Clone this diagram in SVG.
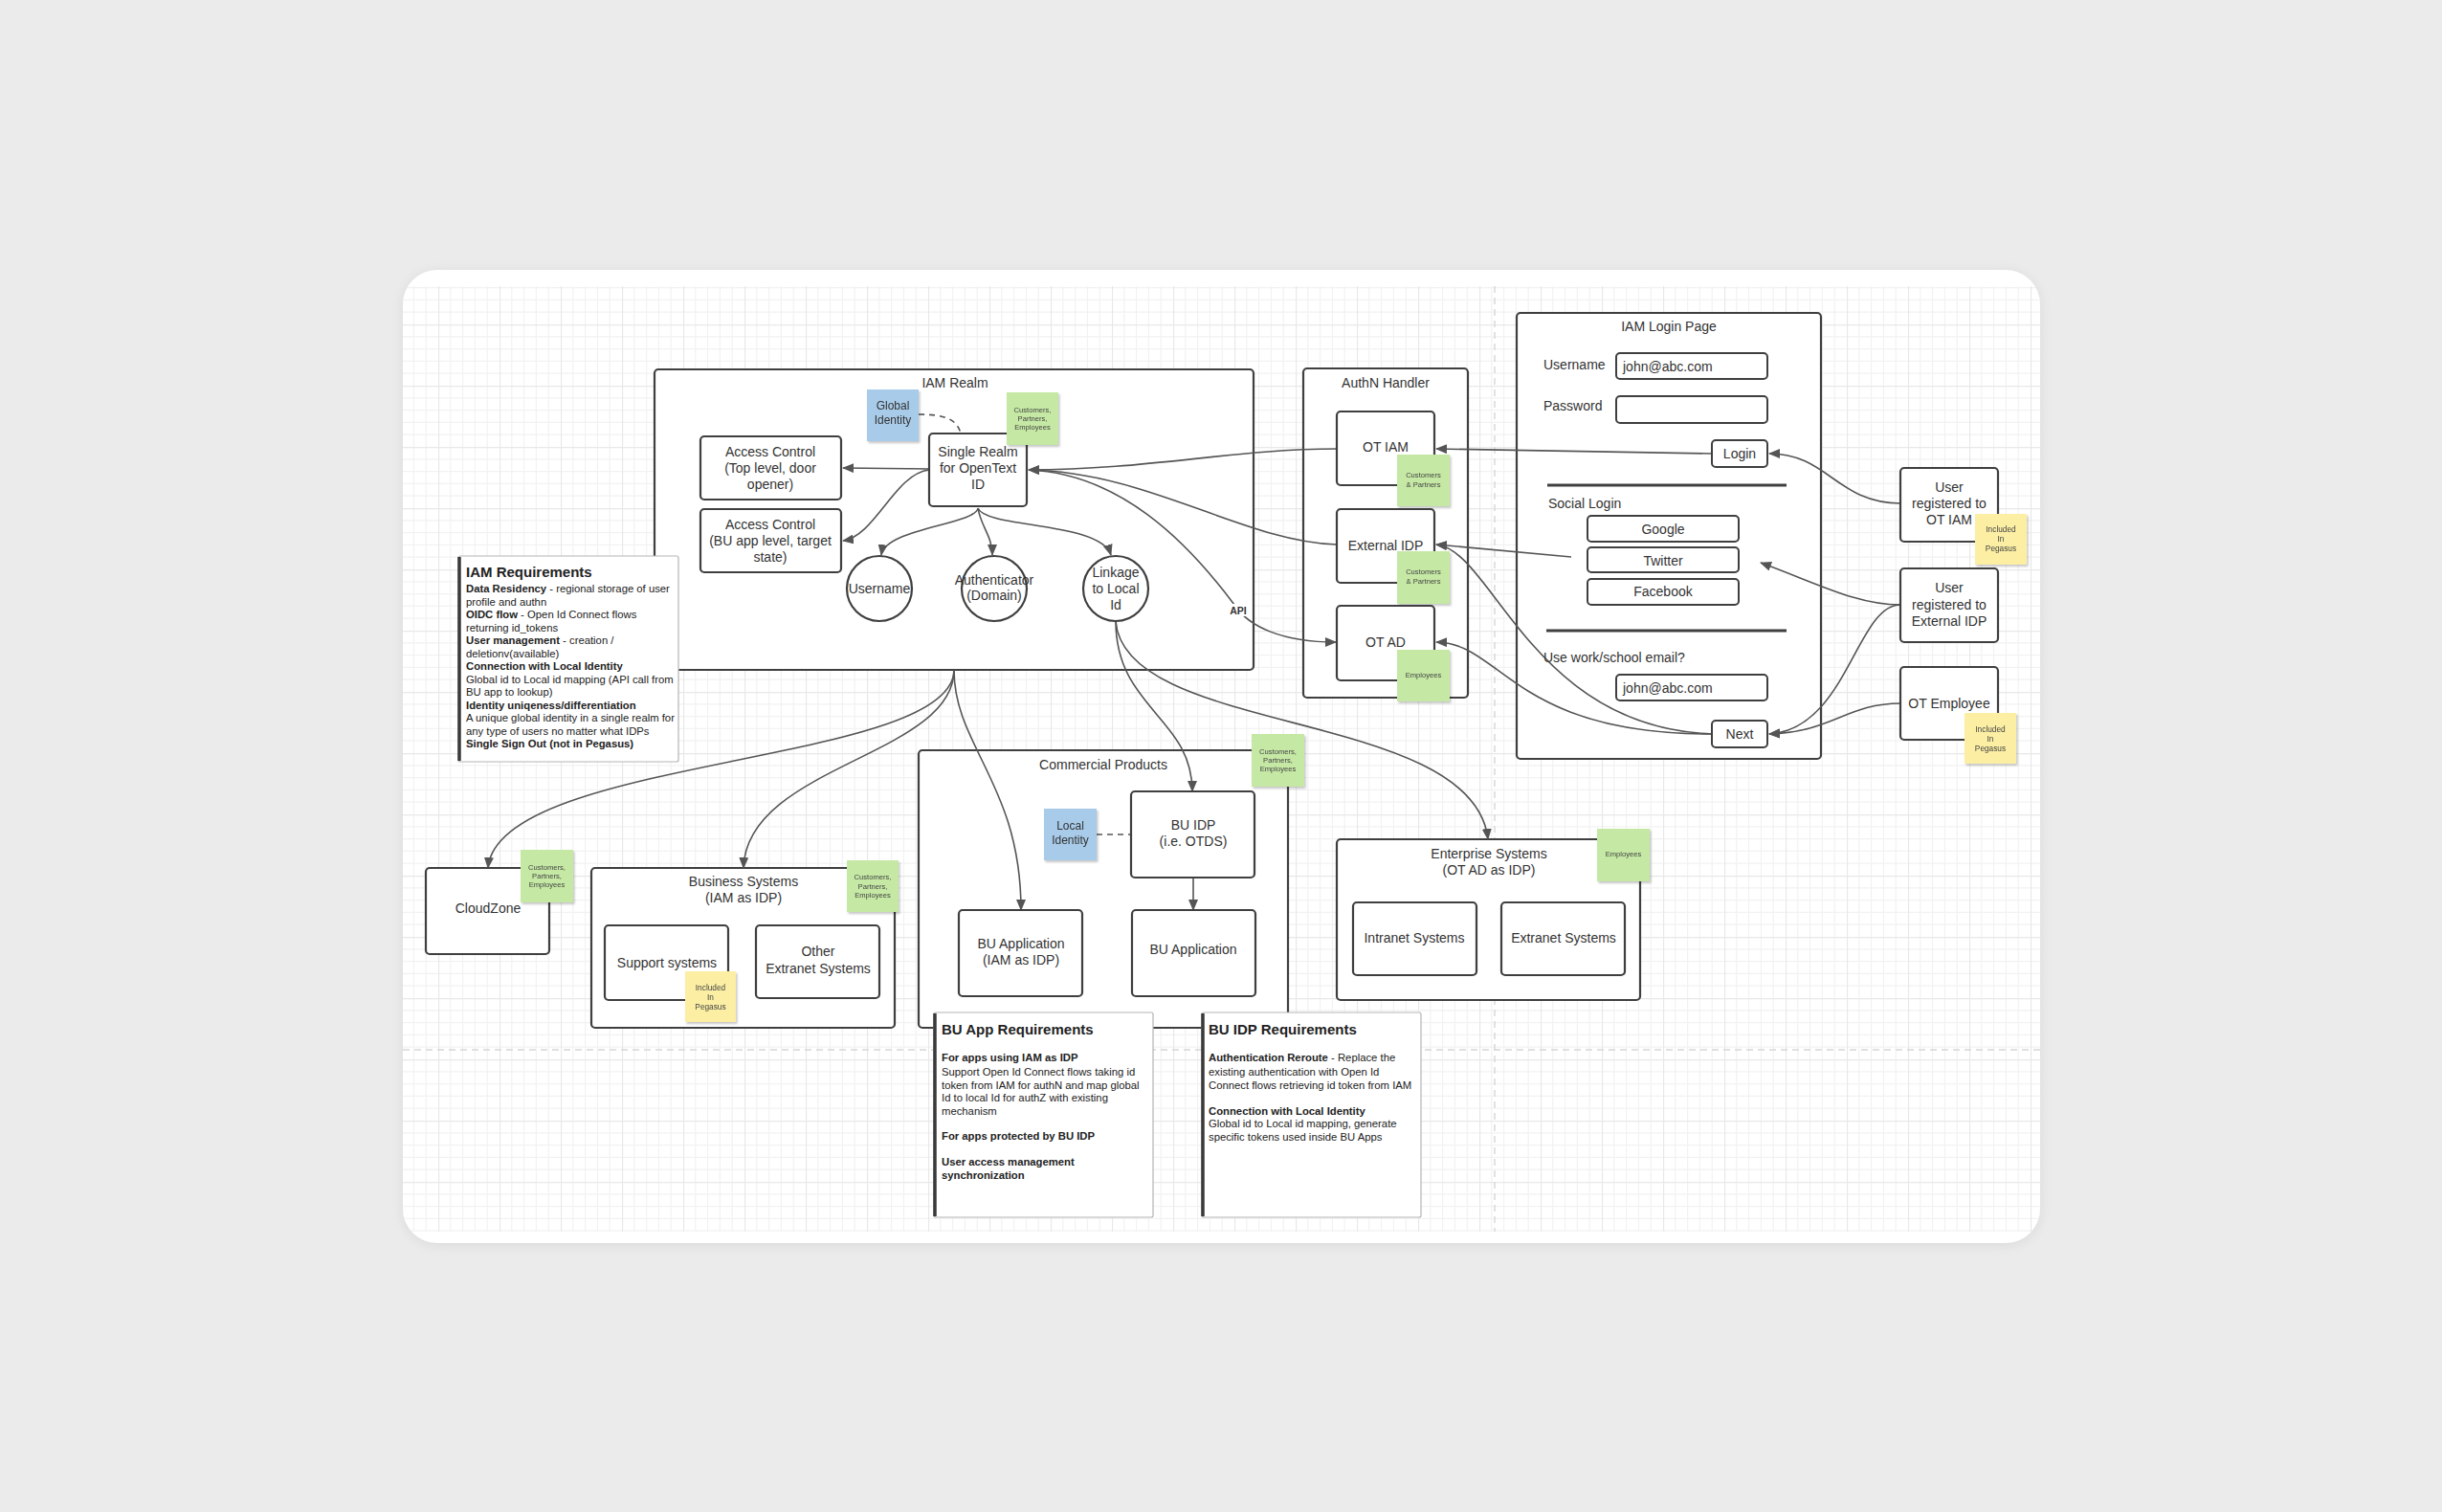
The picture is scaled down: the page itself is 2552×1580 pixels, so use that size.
<svg xmlns="http://www.w3.org/2000/svg" width="2552" height="1580" viewBox="0 0 2552 1580">
<defs>
<style>
text{font-family:"Liberation Sans",Arial,Helvetica,sans-serif;fill:#333}
.t14{font-size:14px}
.c{text-anchor:middle}
.box{fill:#fff;stroke:#3f3f3f;stroke-width:2.2}
.cont{fill:#fff;stroke:#3f3f3f;stroke-width:2.2}
.fld{fill:#fff;stroke:#3f3f3f;stroke-width:2}
.green{fill:#c5e8a4}
.blue{fill:#a8cbe9}
.yellow{fill:#fcefa4}
.st{font-size:7.6px;text-anchor:middle;fill:#444}
.sy{font-size:8.3px;text-anchor:middle;fill:#444}
.sb{font-size:12px;text-anchor:middle;fill:#333}
.conn path,.conn line{fill:none;stroke:#555;stroke-width:1.6}
.conn .arr{marker-end:url(#ah)}
.dash{stroke-dasharray:6 5}
.note{fill:#fff;stroke:#b5b5b5;stroke-width:1.2}
.nl{stroke:#3a3a3a;stroke-width:3.5}
.nt{font-size:15px;font-weight:bold;fill:#222}
.nb{font-size:11.3px;fill:#222}
.b{font-weight:bold}
.sep{stroke:#3f3f3f;stroke-width:3}
</style>
<marker id="ah" viewBox="0 0 12 10" refX="11" refY="5" markerWidth="12" markerHeight="10" markerUnits="userSpaceOnUse" orient="auto">
<path d="M0,0 L12,5 L0,10 z" fill="#555"/>
</marker>
<pattern id="grid" x="10" y="19" width="64" height="64" patternUnits="userSpaceOnUse">
<path d="M12.8,0V64M25.6,0V64M38.4,0V64M51.2,0V64M0,12.8H64M0,25.6H64M0,38.4H64M0,51.2H64" stroke="#f2f2f2" stroke-width="1.2" fill="none"/>
<path d="M0.5,0V64M0,0.5H64" stroke="#e8e8e8" stroke-width="1.3" fill="none"/>
</pattern>
<clipPath id="cardclip"><rect x="421" y="282" width="1711" height="1017" rx="36"/></clipPath>
<filter id="sh" x="-20%" y="-20%" width="150%" height="150%">
<feDropShadow dx="1.5" dy="2" stdDeviation="1.2" flood-color="#000" flood-opacity="0.22"/>
</filter>
<filter id="cardsh" x="-5%" y="-5%" width="110%" height="110%">
<feDropShadow dx="0" dy="2" stdDeviation="6" flood-color="#000" flood-opacity="0.08"/>
</filter>
</defs>

<rect x="0" y="0" width="2552" height="1580" fill="#ebebeb"/>
<rect x="421" y="282" width="1711" height="1017" rx="36" fill="#fff" filter="url(#cardsh)"/>
<g clip-path="url(#cardclip)">
<rect x="421" y="299" width="1711" height="988" fill="url(#grid)"/>
<line x1="1562" y1="299" x2="1562" y2="1287" stroke="#d6d6d6" stroke-width="1.4" stroke-dasharray="7 5"/>
<line x1="421" y1="1097" x2="2132" y2="1097" stroke="#d6d6d6" stroke-width="1.4" stroke-dasharray="7 5"/>
</g>

<!-- containers -->
<g id="iam-realm">
<rect class="cont" x="684" y="386" width="626" height="314" rx="4"/>
<text class="t14 c" x="998" y="405">IAM Realm</text>
</g>
<g id="authn-handler">
<rect class="cont" x="1362" y="385" width="172" height="344" rx="4"/>
<text class="t14 c" x="1448" y="405">AuthN Handler</text>
</g>
<g id="iam-login-page">
<rect class="cont" x="1585" y="327" width="318" height="466" rx="4"/>
<text class="t14 c" x="1744" y="346">IAM Login Page</text>
</g>
<g id="commercial-products">
<rect class="cont" x="960" y="784" width="386" height="290" rx="4"/>
<text class="t14 c" x="1153" y="804">Commercial Products</text>
</g>
<g id="business-systems">
<rect class="cont" x="618" y="907" width="317" height="167" rx="4"/>
<text class="t14 c" x="777" y="926">Business Systems</text>
<text class="t14 c" x="777" y="943">(IAM as IDP)</text>
</g>
<g id="enterprise-systems">
<rect class="cont" x="1397" y="877" width="317" height="168" rx="4"/>
<text class="t14 c" x="1556" y="897">Enterprise Systems</text>
<text class="t14 c" x="1556" y="914">(OT AD as IDP)</text>
</g>

<!-- connectors -->
<g id="connectors" class="conn">
<path class="arr" d="M971,490 L881,489"/>
<path class="arr" d="M971,491 C935,495 915,560 881,565"/>
<path class="arr" d="M1022,531 C1020,548 925,552 921,580"/>
<path class="arr" d="M1022,531 C1025,550 1037,560 1037,580"/>
<path class="arr" d="M1022,531 C1030,552 1150,545 1161,580"/>
<path class="arr" d="M1397,469 C1290,469 1200,491 1075,491"/>
<path class="arr" d="M1397,569 C1300,566 1200,493 1075,491"/>
<path class="arr" d="M1075,491 C1170,495 1240,565 1290,632 C1305,655 1340,671 1396,671"/>
<path class="arr" d="M1789,474 L1501,469"/>
<path class="arr" d="M1642,582 L1501,569"/>
<path class="arr" d="M1789,767 C1600,760 1560,575 1501,569"/>
<path class="arr" d="M1789,767 C1580,767 1570,672 1501,671"/>
<path class="arr" d="M1986,526 C1920,526 1910,474 1849,474"/>
<path class="arr" d="M1986,632 C1940,632 1900,610 1840,588"/>
<path class="arr" d="M1986,632 C1940,632 1930,762 1849,767"/>
<path class="arr" d="M1986,735 C1930,735 1915,765 1849,767"/>
<path class="arr" d="M997,700 C997,800 520,790 510,907"/>
<path class="arr" d="M997,700 C997,790 780,800 777,907"/>
<path class="arr" d="M997,700 C997,780 1067,820 1067,951"/>
<path class="arr" d="M1166,649 C1166,740 1246,750 1246,827"/>
<path class="arr" d="M1166,649 C1175,770 1540,740 1555,877"/>
<path class="arr" d="M1247,917 L1247,951"/>
<path class="dash" d="M960,433 C985,433 1000,437 1004,453"/>
<path class="dash" d="M1146,872 L1182,872"/>
<rect x="1282" y="631" width="24" height="13" fill="#fff"/>
<text x="1294" y="642" font-size="10.5" font-weight="bold" text-anchor="middle" fill="#222">API</text>
</g>

<!-- IAM realm nodes -->
<g id="access-control-top">
<rect class="box" x="732" y="456" width="147" height="66" rx="4"/>
<text class="t14 c" x="805" y="477">Access Control</text>
<text class="t14 c" x="805" y="494">(Top level, door</text>
<text class="t14 c" x="805" y="511">opener)</text>
</g>
<g id="access-control-bu">
<rect class="box" x="732" y="532" width="147" height="66" rx="4"/>
<text class="t14 c" x="805" y="553">Access Control</text>
<text class="t14 c" x="805" y="570">(BU app level, target</text>
<text class="t14 c" x="805" y="587">state)</text>
</g>
<g id="single-realm">
<rect class="box" x="971" y="453" width="102" height="76" rx="4"/>
<text class="t14 c" x="1022" y="477">Single Realm</text>
<text class="t14 c" x="1022" y="494">for OpenText</text>
<text class="t14 c" x="1022" y="511">ID</text>
</g>
<g id="username">
<circle class="box" cx="919" cy="615" r="34"/>
<text class="t14 c" x="919" y="620">Username</text>
</g>
<g id="authenticator">
<circle class="box" cx="1039" cy="615" r="34"/>
<text class="t14 c" x="1039" y="611">Authenticator</text>
<text class="t14 c" x="1039" y="627">(Domain)</text>
</g>
<g id="linkage">
<circle class="box" cx="1166" cy="615" r="34"/>
<text class="t14 c" x="1166" y="603">Linkage</text>
<text class="t14 c" x="1166" y="620">to Local</text>
<text class="t14 c" x="1166" y="637">Id</text>
</g>
<g id="global-identity" filter="url(#sh)">
<rect class="blue" x="906" y="407" width="54" height="54"/>
<text class="sb" x="933" y="428">Global</text>
<text class="sb" x="933" y="443">Identity</text>
</g>
<g id="sticky-realm" filter="url(#sh)">
<rect class="green" x="1052" y="410" width="54" height="55"/>
<text class="st" x="1079" y="431">Customers,</text>
<text class="st" x="1079" y="440">Partners,</text>
<text class="st" x="1079" y="449">Employees</text>
</g>

<!-- IAM requirements -->
<g id="iam-requirements">
<rect class="note" x="479" y="581" width="230" height="215" rx="2"/>
<line class="nl" x1="480" y1="582" x2="480" y2="795"/>
<text class="nt" x="487" y="603">IAM Requirements</text>
<text class="nb" x="487" y="619"><tspan class="b">Data Residency</tspan> - regional storage of user</text>
<text class="nb" x="487" y="632.5">profile and authn</text>
<text class="nb" x="487" y="646"><tspan class="b">OIDC flow</tspan> - Open Id Connect flows</text>
<text class="nb" x="487" y="659.5">returning id_tokens</text>
<text class="nb" x="487" y="673"><tspan class="b">User management</tspan> - creation /</text>
<text class="nb" x="487" y="686.5">deletionv(available)</text>
<text class="nb b" x="487" y="700">Connection with Local Identity</text>
<text class="nb" x="487" y="713.5">Global id to Local id mapping (API call from</text>
<text class="nb" x="487" y="727">BU app to lookup)</text>
<text class="nb b" x="487" y="740.5">Identity uniqeness/differentiation</text>
<text class="nb" x="487" y="754">A unique global identity in a single realm for</text>
<text class="nb" x="487" y="767.5">any type of users no matter what IDPs</text>
<text class="nb b" x="487" y="781">Single Sign Out (not in Pegasus)</text>
</g>

<!-- AuthN handler nodes -->
<g id="ot-iam">
<rect class="box" x="1397" y="430" width="102" height="77" rx="4"/>
<text class="t14 c" x="1448" y="472">OT IAM</text>
</g>
<g id="sticky-ot-iam" filter="url(#sh)">
<rect class="green" x="1460" y="475" width="55" height="54"/>
<text class="st" x="1487.5" y="499">Customers</text>
<text class="st" x="1487.5" y="509">&amp; Partners</text>
</g>
<g id="external-idp">
<rect class="box" x="1397" y="532" width="102" height="77" rx="4"/>
<text class="t14 c" x="1448" y="575">External IDP</text>
</g>
<g id="sticky-ext-idp" filter="url(#sh)">
<rect class="green" x="1460" y="576" width="55" height="55"/>
<text class="st" x="1487.5" y="600">Customers</text>
<text class="st" x="1487.5" y="610">&amp; Partners</text>
</g>
<g id="ot-ad">
<rect class="box" x="1397" y="633" width="102" height="78" rx="4"/>
<text class="t14 c" x="1448" y="676">OT AD</text>
</g>
<g id="sticky-ot-ad" filter="url(#sh)">
<rect class="green" x="1460" y="679" width="55" height="54"/>
<text class="st" x="1487.5" y="708">Employees</text>
</g>

<!-- Login page contents -->
<g id="login-form">
<text class="t14" x="1613" y="386">Username</text>
<rect class="fld" x="1689" y="369" width="158" height="27" rx="4"/>
<text class="t14" x="1696" y="388">john@abc.com</text>
<text class="t14" x="1613" y="429">Password</text>
<rect class="fld" x="1689" y="414" width="158" height="28" rx="4"/>
<line class="sep" x1="1617" y1="507" x2="1867" y2="507"/>
<text class="t14" x="1618" y="531">Social Login</text>
<line class="sep" x1="1616" y1="659" x2="1867" y2="659"/>
<text class="t14" x="1613" y="692">Use work/school email?</text>
<rect class="fld" x="1689" y="705" width="158" height="27" rx="4"/>
<text class="t14" x="1696" y="724">john@abc.com</text>
</g>
<g id="login-btn">
<rect class="fld" x="1789" y="460" width="58" height="28" rx="4"/>
<text class="t14 c" x="1818" y="479">Login</text>
</g>
<g id="google-btn">
<rect class="fld" x="1659" y="539" width="158" height="27" rx="4"/>
<text class="t14 c" x="1738" y="558">Google</text>
</g>
<g id="twitter-btn">
<rect class="fld" x="1659" y="572" width="158" height="26" rx="4"/>
<text class="t14 c" x="1738" y="591">Twitter</text>
</g>
<g id="facebook-btn">
<rect class="fld" x="1659" y="605" width="158" height="27" rx="4"/>
<text class="t14 c" x="1738" y="623">Facebook</text>
</g>
<g id="next-btn">
<rect class="fld" x="1789" y="753" width="58" height="28" rx="4"/>
<text class="t14 c" x="1818" y="772">Next</text>
</g>

<!-- users -->
<g id="user-ot-iam">
<rect class="box" x="1986" y="489" width="102" height="77" rx="4"/>
<text class="t14 c" x="2037" y="514">User</text>
<text class="t14 c" x="2037" y="531">registered to</text>
<text class="t14 c" x="2037" y="548">OT IAM</text>
</g>
<g id="sticky-user-ot-iam" filter="url(#sh)">
<rect class="yellow" x="2064" y="537" width="54" height="53"/>
<text class="sy" x="2091" y="556">Included</text>
<text class="sy" x="2091" y="566">In</text>
<text class="sy" x="2091" y="576">Pegasus</text>
</g>
<g id="user-ext-idp">
<rect class="box" x="1986" y="594" width="102" height="77" rx="4"/>
<text class="t14 c" x="2037" y="619">User</text>
<text class="t14 c" x="2037" y="637">registered to</text>
<text class="t14 c" x="2037" y="654">External IDP</text>
</g>
<g id="ot-employee">
<rect class="box" x="1986" y="697" width="102" height="76" rx="4"/>
<text class="t14 c" x="2037" y="740">OT Employee</text>
</g>
<g id="sticky-ot-employee" filter="url(#sh)">
<rect class="yellow" x="2053" y="745" width="54" height="53"/>
<text class="sy" x="2080" y="765">Included</text>
<text class="sy" x="2080" y="775">In</text>
<text class="sy" x="2080" y="785">Pegasus</text>
</g>

<!-- bottom left -->
<g id="cloudzone">
<rect class="box" x="445" y="907" width="129" height="90" rx="4"/>
<text class="t14 c" x="510" y="954">CloudZone</text>
</g>
<g id="sticky-cloudzone" filter="url(#sh)">
<rect class="green" x="544" y="888" width="55" height="55"/>
<text class="st" x="571.5" y="909">Customers,</text>
<text class="st" x="571.5" y="918">Partners,</text>
<text class="st" x="571.5" y="927">Employees</text>
</g>
<g id="sticky-business" filter="url(#sh)">
<rect class="green" x="885" y="899" width="54" height="54"/>
<text class="st" x="912" y="919">Customers,</text>
<text class="st" x="912" y="929">Partners,</text>
<text class="st" x="912" y="938">Employees</text>
</g>
<g id="support-systems">
<rect class="box" x="632" y="967" width="129" height="78" rx="4"/>
<text class="t14 c" x="697" y="1011">Support systems</text>
</g>
<g id="sticky-support" filter="url(#sh)">
<rect class="yellow" x="716" y="1015" width="53" height="53"/>
<text class="sy" x="742.5" y="1035">Included</text>
<text class="sy" x="742.5" y="1045">In</text>
<text class="sy" x="742.5" y="1055">Pegasus</text>
</g>
<g id="other-extranet">
<rect class="box" x="790" y="967" width="129" height="76" rx="4"/>
<text class="t14 c" x="855" y="999">Other</text>
<text class="t14 c" x="855" y="1017">Extranet Systems</text>
</g>

<!-- commercial products -->
<g id="sticky-commercial" filter="url(#sh)">
<rect class="green" x="1308" y="767" width="55" height="55"/>
<text class="st" x="1335.5" y="788">Customers,</text>
<text class="st" x="1335.5" y="797">Partners,</text>
<text class="st" x="1335.5" y="806">Employees</text>
</g>
<g id="local-identity" filter="url(#sh)">
<rect class="blue" x="1091" y="845" width="55" height="54"/>
<text class="sb" x="1118.5" y="867">Local</text>
<text class="sb" x="1118.5" y="882">Identity</text>
</g>
<g id="bu-idp">
<rect class="box" x="1182" y="827" width="129" height="90" rx="4"/>
<text class="t14 c" x="1247" y="867">BU IDP</text>
<text class="t14 c" x="1247" y="884">(i.e. OTDS)</text>
</g>
<g id="bu-app-iam">
<rect class="box" x="1002" y="951" width="129" height="90" rx="4"/>
<text class="t14 c" x="1067" y="991">BU Application</text>
<text class="t14 c" x="1067" y="1008">(IAM as IDP)</text>
</g>
<g id="bu-app">
<rect class="box" x="1183" y="951" width="129" height="90" rx="4"/>
<text class="t14 c" x="1247" y="997">BU Application</text>
</g>

<!-- enterprise -->
<g id="sticky-enterprise" filter="url(#sh)">
<rect class="green" x="1669" y="866" width="55" height="55"/>
<text class="st" x="1696.5" y="895">Employees</text>
</g>
<g id="intranet-systems">
<rect class="box" x="1414" y="943" width="129" height="76" rx="4"/>
<text class="t14 c" x="1478" y="985">Intranet Systems</text>
</g>
<g id="extranet-systems">
<rect class="box" x="1569" y="943" width="129" height="76" rx="4"/>
<text class="t14 c" x="1634" y="985">Extranet Systems</text>
</g>

<!-- requirement notes -->
<g id="bu-app-requirements">
<rect class="note" x="976" y="1058" width="229" height="214" rx="2"/>
<line class="nl" x1="977" y1="1059" x2="977" y2="1271"/>
<text class="nt" x="984" y="1081">BU App Requirements</text>
<text class="nb b" x="984" y="1109">For apps using IAM as IDP</text>
<text class="nb" x="984" y="1124">Support Open Id Connect flows taking id</text>
<text class="nb" x="984" y="1137.5">token from IAM for authN and map global</text>
<text class="nb" x="984" y="1151">Id to local Id for authZ with existing</text>
<text class="nb" x="984" y="1164.5">mechanism</text>
<text class="nb b" x="984" y="1191">For apps protected by BU IDP</text>
<text class="nb b" x="984" y="1218">User access management</text>
<text class="nb b" x="984" y="1231.5">synchronization</text>
</g>
<g id="bu-idp-requirements">
<rect class="note" x="1256" y="1058" width="229" height="214" rx="2"/>
<line class="nl" x1="1257" y1="1059" x2="1257" y2="1271"/>
<text class="nt" x="1263" y="1081">BU IDP Requirements</text>
<text class="nb" x="1263" y="1109"><tspan class="b">Authentication Reroute</tspan> - Replace the</text>
<text class="nb" x="1263" y="1124">existing authentication with Open Id</text>
<text class="nb" x="1263" y="1137.5">Connect flows retrieving id token from IAM</text>
<text class="nb b" x="1263" y="1164.5">Connection with Local Identity</text>
<text class="nb" x="1263" y="1178">Global id to Local id mapping, generate</text>
<text class="nb" x="1263" y="1191.5">specific tokens used inside BU Apps</text>
</g>
</svg>
